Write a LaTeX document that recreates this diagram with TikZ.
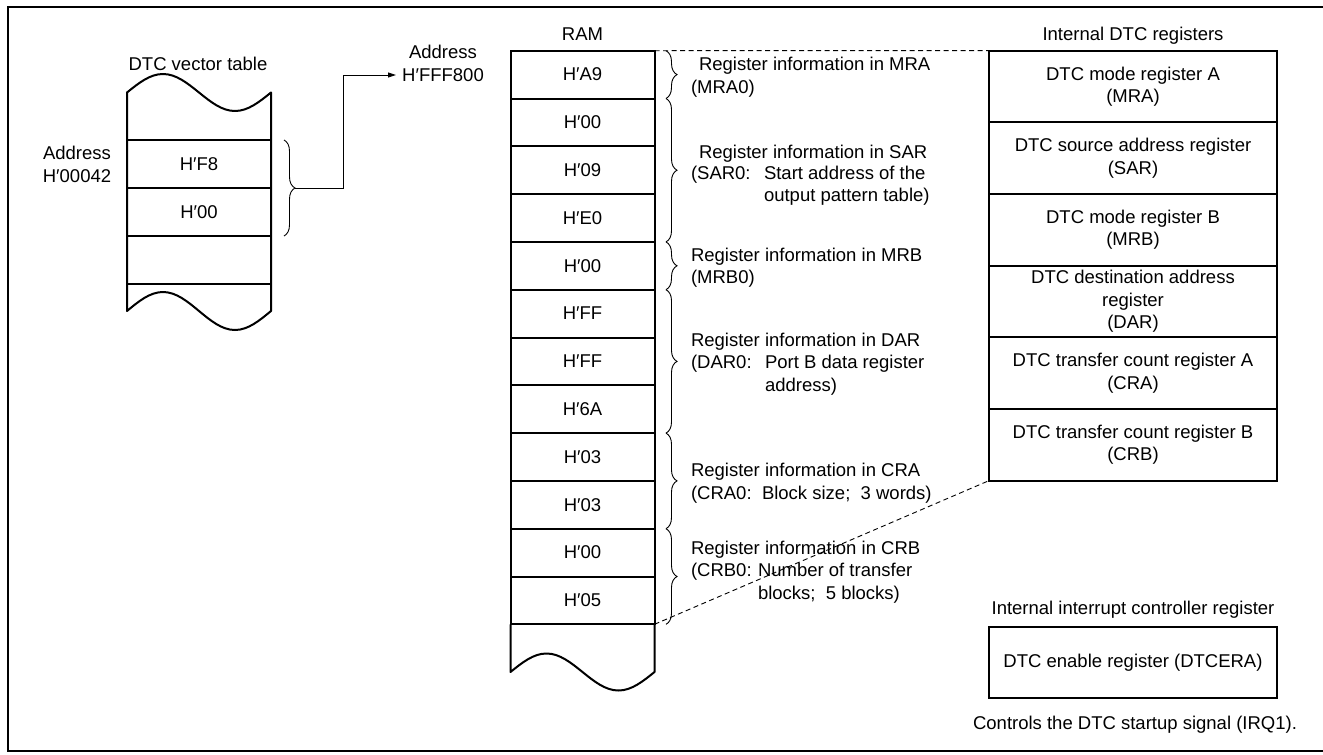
\documentclass[tikz,border=0pt]{standalone}
\usepackage{fontspec}
\setmainfont{Liberation Sans}
\usetikzlibrary{decorations.pathreplacing,arrows.meta}
\begin{document}
\begin{tikzpicture}[x=1pt,y=-1pt,
  txt/.style={font=\fontsize{18.5}{22.5}\selectfont, inner sep=0pt, outer sep=0pt},
  lbl/.style={txt, anchor=base west},
  ttl/.style={txt, anchor=base},
  cell/.style={draw, line width=2pt, minimum width=144pt, minimum height=47.8pt,
    inner sep=0pt, outer sep=0pt, font=\fontsize{18.5}{22.5}\selectfont, align=center},
  regbox/.style={draw, line width=2pt, minimum width=288pt, minimum height=71.67pt,
    inner sep=0pt, outer sep=0pt, font=\fontsize{18.5}{22.5}\selectfont, align=center},
  brc/.style={decorate, decoration={brace, amplitude=11pt}, line width=0.9pt},
  outline/.style={line width=2pt, line join=round},
  dsh/.style={line width=0.9pt, dash pattern=on 5pt off 3.5pt},
  conn/.style={line width=0.9pt}
]
\useasboundingbox (0,0) rectangle (1323,755);
% frame (open on the right)
\draw[line width=2pt] (1323,7) -- (7.5,7) -- (7.5,751) -- (1323,751);

% ---------- DTC vector table ----------
\node[ttl] (vtitle) at (198,70.6) {DTC vector table};
\draw[outline] (127,92.5) -- (127,311) sin (163,292) cos (199,311) sin (235,330) cos (271,311)
  -- (271,92.5) sin (235,111) cos (199,92.5) sin (163,74) cos (127,92.5) -- cycle;
\node[cell, minimum height=48pt] (v1) at (199,164) {H′F8};
\node[cell, minimum height=48pt] (v2) at (199,212) {H′00};
\node[cell, minimum height=48pt] (v3) at (199,260) {};
\node[ttl] (vaddr1) at (77,159.6) {Address};
\node[ttl] (vaddr2) at (77,182.6) {H′00042};
\draw[brc] (284,140) -- (284,236);
\coordinate (vtip) at (295,188);
\coordinate (bend) at (343,188);
\coordinate (addrin) at (396,75);
\draw[conn, -{Triangle[length=8pt,width=5pt]}] (vtip) -- (bend) |- (addrin);
\node[ttl] (addr1) at (443,58.6) {Address};
\node[ttl] (addr2) at (443,81.6) {H′FFF800};

% ---------- RAM ----------
\node[ttl] (ramlbl) at (582.5,40.6) {RAM};
\foreach \v [count=\i] in {H′A9,H′00,H′09,H′E0,H′00,H′FF,H′FF,H′6A,H′03,H′03,H′00,H′05}
  \node[cell] (ram\i) at (582.5,{74.6+47.8*(\i-1)}) {\v};
\draw[outline] (ram12.south west) -- (510.5,672) sin (546.5,653.5) cos (582.5,672)
  sin (618.5,690.5) cos (654.5,672) -- (ram12.south east);

% braces
\draw[brc] (666,50.7) -- (666,98.5);
\draw[brc] (666,98.5) -- (666,241.9);
\draw[brc] (666,241.9) -- (666,289.7);
\draw[brc] (666,289.7) -- (666,433.1);
\draw[brc] (666,433.1) -- (666,528.7);
\draw[brc] (666,528.7) -- (666,624.3);

% annotations
\node[lbl] (mra1) at (699,70.6) {Register information in MRA};
\node[lbl] (mra2) at (691,93.6) {(MRA0)};
\node[lbl] (sar1) at (699,158.6) {Register information in SAR};
\node[lbl] (sar2) at (691,179.6) {(SAR0:};
\node[lbl] (sar3) at (764,179.6) {Start address of the};
\node[lbl] (sar4) at (764,201.6) {output pattern table)};
\node[lbl] (mrb1) at (691,261.6) {Register information in MRB};
\node[lbl] (mrb2) at (691,283.6) {(MRB0)};
\node[lbl] (dar1) at (691,346.6) {Register information in DAR};
\node[lbl] (dar2) at (691,368.6) {(DAR0:};
\node[lbl] (dar3) at (765,368.6) {Port B data register};
\node[lbl] (dar4) at (765,391.6) {address)};
\node[lbl] (cra1) at (691,476.6) {Register information in CRA};
\node[lbl] (cra2) at (691,499.6) {(CRA0:};
\node[lbl] (cra3) at (762,499.6) {Block size;\ \ 3 words)};
\node[lbl] (crb1) at (691,554.6) {Register information in CRB};
\node[lbl] (crb2) at (691,576.6) {(CRB0:};
\node[lbl] (crb3) at (758,576.6) {Number of transfer};
\node[lbl] (crb4) at (758,599.6) {blocks;\ \ 5 blocks)};

% ---------- Internal DTC registers ----------
\node[ttl] (regtitle) at (1133,40.6) {Internal DTC registers};
\node[regbox] (reg1) at (1133,86.5) {DTC mode register A\\(MRA)};
\node[regbox] (reg2) at (1133,158.2) {DTC source address register\\(SAR)};
\node[regbox] (reg3) at (1133,229.8) {DTC mode register B\\(MRB)};
\node[regbox] (reg4) at (1133,301.5) {DTC destination address\\register\\(DAR)};
\node[regbox] (reg5) at (1133,373.2) {DTC transfer count register A\\(CRA)};
\node[regbox] (reg6) at (1133,444.8) {DTC transfer count register B\\(CRB)};

\draw[dsh] (ram1.north east) -- (reg1.north west);
\draw[dsh] (ram12.south east) -- (reg6.south west);

% ---------- interrupt controller ----------
\node[ttl] (inttitle) at (1133,614.6) {Internal interrupt controller register};
\node[regbox] (dtcer) at (1133,662.5) {DTC enable register (DTCERA)};
\node[ttl] (ctrl) at (1135,729.6) {Controls the DTC startup signal (IRQ1).};
\end{tikzpicture}
\end{document}
